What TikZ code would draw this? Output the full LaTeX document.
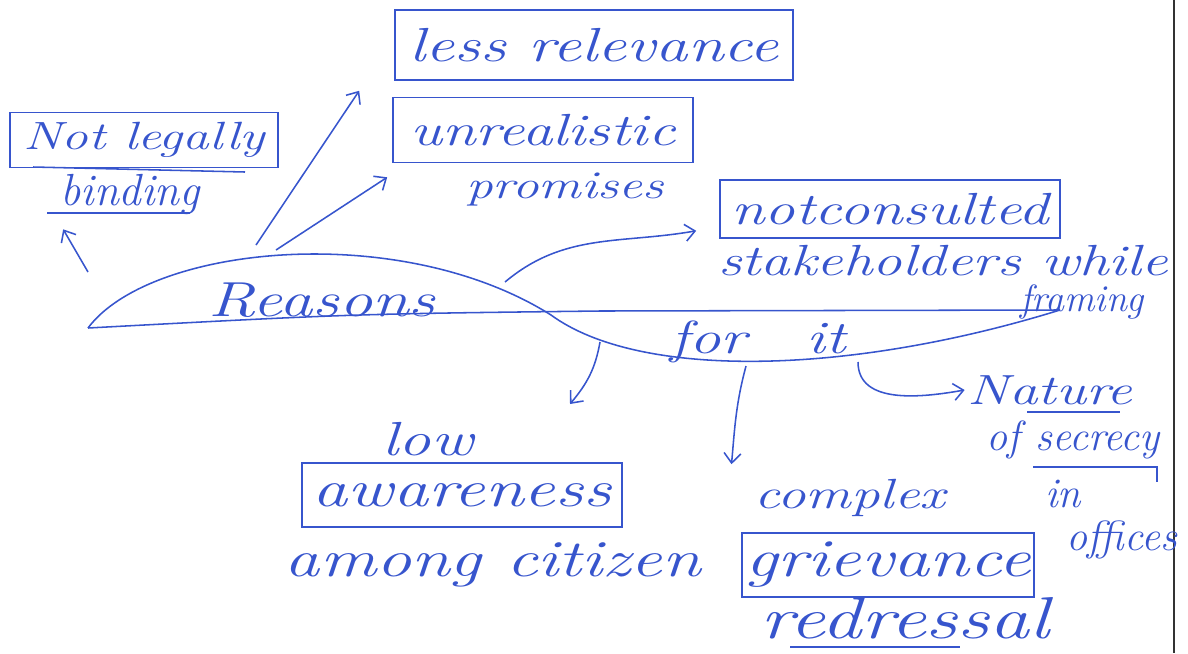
\documentclass[tikz,border=0pt]{standalone}
\usepackage{fontspec}
\setmainfont{Latin Modern Roman}[FakeStretch=1.35]
\newfontfamily\plainlm{Latin Modern Roman}
\usetikzlibrary{arrows.meta,positioning,calc}
\definecolor{ink}{RGB}{55,85,205}
\tikzset{
  note/.style={text=ink, font=\fontsize{30}{34}\selectfont\itshape, inner sep=2pt},
  sz/.style={font=\fontsize{#1}{#1}\selectfont\itshape},
  plain/.style={font=\fontsize{#1}{#1}\selectfont\plainlm\itshape},
  boxed/.style={note, draw=ink, line width=1.1pt},
  link/.style={draw=ink, line width=1.1pt, -{Straight Barb[length=7pt,width=12pt]}},
  stroke/.style={draw=ink, line width=1.1pt}
}
\begin{document}
\begin{tikzpicture}[x=0.025cm,y=-0.025cm]
\useasboundingbox (0,0) rectangle (1188,653);
\draw[line width=1.5pt, black!80] (1174,0) -- (1174,653);
% the wave
\draw[stroke] (88,328) .. controls (150,245) and (400,220) .. (551,315) .. controls (640,380) and (850,375) .. (1060,310);
\draw[stroke] (88,328) .. controls (350,314) .. (600,311) -- (1060,310);
\node[note, sz=35] (reasons) at (322,300) {Reasons};
\node[note, sz=33] (forit) at (758,342) {for\hspace{1.3em}it};
% boxes
\node[boxed, sz=34, minimum width=9.95cm, minimum height=1.75cm] (relevance) at (594,45) {less relevance};
\node[boxed, sz=28, minimum width=6.7cm, minimum height=1.375cm] (legal) at (144,140) {Not legally};
\node[note, plain=32] (binding) at (130,194) {binding};
\node[boxed, sz=32, minimum width=7.5cm, minimum height=1.625cm] (unreal) at (543,130) {unrealistic};
\node[note, sz=28] (promises) at (565,190) {promises};
\node[boxed, sz=32, minimum width=8.5cm, minimum height=1.45cm] (consulted) at (890,209) {notconsulted};
\node[note, sz=31] (stakeholders) at (943,261) {stakeholders while};
\node[note, plain=27] (framing) at (1082,302) {framing};
\node[note, sz=34] (low) at (428,439) {low};
\node[boxed, sz=37, minimum width=8cm, minimum height=1.6cm] (awareness) at (462,495) {awareness};
\node[note, sz=37] (citizen) at (493,565) {among citizen};
\node[note] (complex) at (850,498) {complex};
\node[boxed, sz=38, minimum width=7.3cm, minimum height=1.6cm] (grievance) at (888,565) {grievance};
\node[note, sz=42] (redressal) at (905,618) {redressal};
\node[note] (nature) at (1050,390) {Nature};
\node[note, plain=30] (secrecy) at (1073,440) {of secrecy};
\node[note, plain=30] (inword) at (1063,494) {in};
\node[note, plain=30] (offices) at (1122,540) {offices};
% underlines
\draw[stroke] (33,167) -- (245,172);
\draw[stroke] (47,213) -- (190,213);
\draw[stroke] (1027,412) -- (1120,412);
\draw[stroke] (1033,467) -- (1157,467) -- (1157,482);
\draw[stroke] (790,647) -- (960,647);
% arrows out of the wave
\coordinate (w1) at (88,272);
\coordinate (w2) at (256,245);
\coordinate (w3) at (276,250);
\coordinate (w4) at (505,282);
\coordinate (w5) at (600,342);
\coordinate (w6) at (746,366);
\coordinate (w7) at (858,362);
\coordinate (t5) at (570,404);
\draw[link] (w1) -- ($(binding.south west)+(6,12)$);
\draw[link] (w2) -- ($(relevance.south west)+(-35,10)$);
\draw[link] (w3) -- ($(unreal.south west)+(-5,14)$);
\draw[link] (w4) to[out=40,in=190] ($(consulted.south west)+(-23,-8)$);
\draw[link] (w5) to[out=-100,in=50] (t5);
\draw[link] (w6) to[out=-105,in=85] ($(complex.north west)+(-20,-12)$);
\draw[link] (w7) to[out=-90,in=190] (nature.west);
\end{tikzpicture}
\end{document}
